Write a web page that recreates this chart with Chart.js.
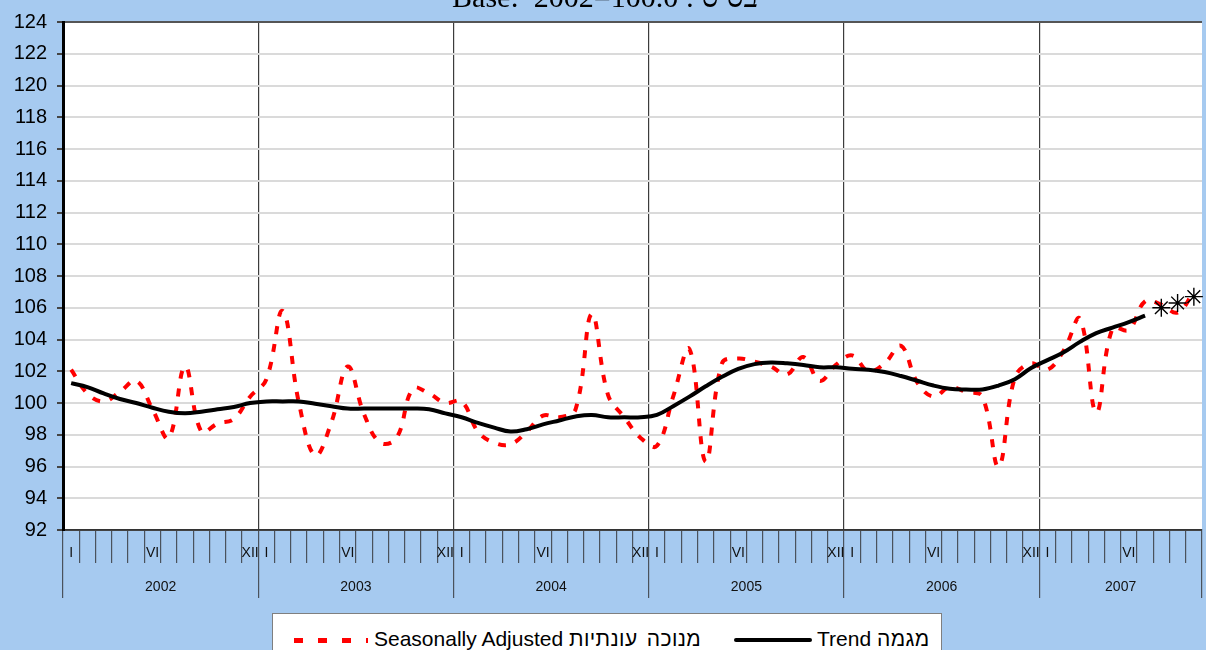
<!DOCTYPE html>
<html>
<head>
<meta charset="utf-8">
<script src="https://cdn.jsdelivr.net/npm/chart.js@4.4.1/dist/chart.umd.min.js"></script>
<style>
  html, body { margin: 0; padding: 0; background: #a6caf0; overflow: hidden; }
  #wrap { position: relative; width: 1206px; height: 650px; }
  #legend {
    position: absolute; left: 272px; top: 613px; width: 668px; height: 60px;
    background: #fff; border: 1px solid #7f7f7f;
    font: 21px "Liberation Sans", Arial, sans-serif; color: #000;
  }
  #legend .item { position: absolute; top: 13px; line-height: 24px; white-space: nowrap; }
  #legend .he { letter-spacing: 0.4px; word-spacing: 3px; }
  #legend .sample { position: absolute; }
  .sa-sample { left: 21px; top: 24px; width: 74px; height: 5px;
    background: repeating-linear-gradient(90deg, #ff0000 0 9px, transparent 9px 24px); }
  .tr-sample { left: 461px; top: 24px; width: 78px; height: 4px; background: #000; border-radius: 2px; }
</style>
</head>
<body>
<div id="wrap">
  <canvas id="chart" width="1206" height="650"></canvas>
  <div id="legend" dir="ltr">
    <div class="sample sa-sample"></div>
    <div class="item" style="left:101px">Seasonally Adjusted <span class="he">מנוכה עונתיות</span></div>
    <div class="sample tr-sample"></div>
    <div class="item" style="left:544px">Trend <span class="he">מגמה</span></div>
  </div>
</div>
<script>
const TITLE = "Base:  2002=100.0 : בסיס";

const years = ["2002", "2003", "2004", "2005", "2006", "2007"];
const romans = ["I", "II", "III", "IV", "V", "VI", "VII", "VIII", "IX", "X", "XI", "XII"];
const shownMonths = ["I", "VI", "XII"];

// Jan 2002 .. Oct 2007
const months = [];
years.forEach((y, i) => {
  const n = i === years.length - 1 ? 10 : 12;
  for (let m = 0; m < n; m++) months.push(romans[m]);
});

// Seasonally adjusted
const seasAdj = [
  102.1, 100.6, 100.1, 100.7, 101.4, 99.6, 97.8, 102.3, 98.2, 98.7, 99.0, 100.4,
  101.5, 105.8, 100.0, 96.7, 98.8, 102.3, 99.3, 97.5, 97.8, 100.9, 100.6, 100.0,
  100.1, 98.2, 97.5, 97.4, 98.2, 99.2, 99.1, 99.6, 105.6, 100.5, 99.1, 97.8,
  97.3, 100.4, 103.4, 96.3, 102.5, 102.8, 102.6, 102.3, 101.8, 102.9, 101.4, 102.4,
  103.0, 102.0, 102.5, 103.6, 101.3, 100.4, 101.0, 100.7, 100.4, 96.0, 101.6, 102.5,
  102.1, 103.3, 105.3, 99.4, 104.7, 104.6, 106.4, 106.2, 105.7, 107.0
];

// Trend (through Jul 2007)
const trend = [
  101.25, 101.0, 100.6, 100.25, 100.0, 99.7, 99.45, 99.35, 99.45, 99.6, 99.75, 100.0,
  100.1, 100.1, 100.1, 99.95, 99.8, 99.65, 99.65, 99.65, 99.65, 99.65, 99.6, 99.35,
  99.1, 98.75, 98.45, 98.2, 98.35, 98.65, 98.9, 99.15, 99.25, 99.1, 99.1, 99.1,
  99.25, 99.8, 100.4, 101.05, 101.65, 102.15, 102.45, 102.55, 102.5, 102.4, 102.25, 102.25,
  102.15, 102.1, 101.95, 101.7, 101.4, 101.1, 100.9, 100.85, 100.85, 101.1, 101.5, 102.2,
  102.7, 103.2, 103.85, 104.4, 104.75, 105.1, 105.5
];

// Trend estimates shown as asterisks (Aug-Oct 2007)
const trendEst = [106.0, 106.3, 106.7];

const yearBounds = [0, 12, 24, 36, 48, 60, 70];
const yearCenters = [6, 18, 30, 42, 54, 65];

const FONT = '"Liberation Sans", Arial, sans-serif';
const AXIS_DARK = "#4a525c";

const starData = months.map((_, i) => {
  const k = i - trend.length;
  return k >= 0 && k < trendEst.length ? trendEst[k] : null;
});

const plotBg = {
  id: "plotBg",
  beforeDraw(chart) {
    const { ctx, chartArea: a } = chart;
    ctx.save();
    ctx.fillStyle = "#fff";
    ctx.fillRect(a.left, a.top, a.right - a.left, a.bottom - a.top);
    ctx.restore();
  },
};

const topTitle = {
  id: "topTitle",
  afterDraw(chart) {
    const ctx = chart.ctx;
    ctx.save();
    ctx.font = '30px "Liberation Serif", "Times New Roman", serif';
    ctx.fillStyle = "#000";
    ctx.textAlign = "center";
    ctx.textBaseline = "alphabetic";
    ctx.fillText(TITLE, chart.width / 2 + 2, 7);
    ctx.restore();
  },
};

new Chart(document.getElementById("chart"), {
  type: "line",
  data: {
    labels: months,
    datasets: [
      {
        label: "trend estimate",
        data: starData,
        showLine: false,
        pointStyle: "star",
        pointRadius: 9,
        borderColor: "#000",
        borderWidth: 1.4,
        backgroundColor: "#000",
      },
      {
        label: "Trend מגמה",
        data: trend,
        borderColor: "#000",
        borderWidth: 4,
        pointRadius: 0,
        tension: 0.4,
      },
      {
        label: "Seasonally Adjusted מנוכה עונתיות",
        data: seasAdj,
        borderColor: "#ff0000",
        borderWidth: 4,
        borderDash: [8, 10],
        pointRadius: 0,
        tension: 0.4,
      },
    ],
  },
  options: {
    responsive: false,
    animation: false,
    layout: { autoPadding: false, padding: { top: 19, right: 4, bottom: 52, left: 0 } },
    plugins: {
      legend: { display: false },
      tooltip: { enabled: false },
    },
    scales: {
      x: {
        type: "category",
        offset: true,
        weight: 1,
        grid: {
          offset: true,
          color: (c) => (c.index % 12 === 0 || c.index === months.length ? "#3c3c3c" : "rgba(0,0,0,0)"),
          tickColor: AXIS_DARK,
          tickLength: 33,
          lineWidth: 1.2,
        },
        border: { display: true, color: "#333", width: 1.5 },
        ticks: {
          autoSkip: false,
          maxRotation: 0,
          padding: -18,
          color: "#111",
          font: { family: FONT, size: 14 },
          callback: (v, i) => (shownMonths.includes(months[i]) ? months[i] : ""),
        },
        afterFit: (s) => { s.height = 33; },
      },
      x2: {
        type: "linear",
        position: "bottom",
        weight: 2,
        min: 0,
        max: 70,
        afterBuildTicks: (s) => { s.ticks = yearBounds.concat(yearCenters).sort((a, b) => a - b).map((v) => ({ value: v })); },
        grid: {
          drawOnChartArea: false,
          tickLength: 35,
          lineWidth: 1.2,
          tickColor: (c) => (c.tick && yearBounds.includes(c.tick.value) ? AXIS_DARK : "rgba(0,0,0,0)"),
        },
        border: { display: false },
        ticks: {
          autoSkip: false,
          maxRotation: 0,
          padding: -19,
          color: "#111",
          font: { family: FONT, size: 14 },
          callback: (v) => {
            const k = yearCenters.indexOf(v);
            return k >= 0 ? years[k] : "";
          },
        },
        afterFit: (s) => { s.height = 35; },
      },
      y: {
        min: 92,
        max: 124,
        ticks: { stepSize: 2, padding: 10, color: "#000", font: { family: FONT, size: 20 } },
        grid: {
          color: (c) => (c.tick && (c.tick.value === 124 || c.tick.value === 92) ? "#555" : "#dadada"),
          lineWidth: 2,
          tickColor: "#444",
          tickLength: 6,
        },
        border: { color: "#000", width: 3 },
        afterFit: (s) => { s.width = 63; },
      },
    },
  },
  plugins: [plotBg, topTitle],
});
</script>
</body>
</html>
